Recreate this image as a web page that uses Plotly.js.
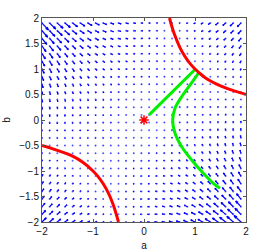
<!DOCTYPE html>
<html>
<head>
<meta charset="utf-8">
<script src="https://cdn.plot.ly/plotly-3.0.1.min.js"></script>
<style>
html,body{margin:0;padding:0;background:#fff;}
#plot{width:277px;height:251px;}
</style>
</head>
<body>
<div id="plot"></div>
<script>
// ---- grid of the vector field (a across, b up) ----
const aGrid = [-2,-1.85,-1.7,-1.55,-1.4,-1.25,-1.1,-0.95,-0.8,-0.65,-0.5,-0.35,-0.2,-0.05,0.1,0.25,0.4,0.55,0.7,0.85,1,1.15,1.3,1.45,1.6,1.75,1.9];
const bGrid = [-2,-1.85,-1.7,-1.55,-1.4,-1.25,-1.1,-0.95,-0.8,-0.65,-0.5,-0.35,-0.2,-0.05,0.1,0.25,0.4,0.55,0.7,0.85,1,1.15,1.3,1.45,1.6,1.75,1.9];

// fieldTable[j][i] : a-component of the arrow at (aGrid[i], bGrid[j]).
// The field is symmetric under swapping a and b, so the b-component at
// (aGrid[i], bGrid[j]) is fieldTable[i][j].
const fieldTable = [
[12,10.8,9.6,8.4,7.2,6,4.8,3.6,2.4,1.2,0,-1.2,-2.4,-3.6,-4.8,-6,-7.2,-8.4,-9.6,-10.8,-12,-13.2,-14.4,-15.6,-16.8,-18,-19.2],
[10,9,7.9,6.9,5.9,4.9,3.8,2.8,1.8,0.7,-0.3,-1.3,-2.3,-3.4,-4.4,-5.4,-6.4,-7.5,-8.5,-9.5,-10.5,-11.6,-12.6,-13.6,-14.7,-15.7,-16.7],
[8.2,7.3,6.4,5.6,4.7,3.8,3,2.1,1.2,0.4,-0.5,-1.4,-2.2,-3.1,-4,-4.8,-5.7,-6.6,-7.4,-8.3,-9.2,-10,-10.9,-11.8,-12.6,-13.5,-14.4],
[6.5,5.8,5.1,4.3,3.6,2.9,2.2,1.5,0.7,0,-0.7,-1.4,-2.1,-2.9,-3.6,-4.3,-5,-5.7,-6.5,-7.2,-7.9,-8.6,-9.3,-10.1,-10.8,-11.5,-12.2],
[5,4.5,3.9,3.3,2.7,2.1,1.5,0.9,0.3,-0.3,-0.8,-1.4,-2,-2.6,-3.2,-3.8,-4.4,-5,-5.5,-6.1,-6.7,-7.3,-7.9,-8.5,-9.1,-9.7,-10.2],
[3.8,3.3,2.8,2.3,1.9,1.4,0.9,0.5,0,-0.5,-0.9,-1.4,-1.9,-2.3,-2.8,-3.3,-3.8,-4.2,-4.7,-5.2,-5.6,-6.1,-6.6,-7,-7.5,-8,-8.4],
[2.6,2.3,1.9,1.6,1.2,0.8,0.5,0.1,-0.3,-0.6,-1,-1.4,-1.7,-2.1,-2.4,-2.8,-3.2,-3.5,-3.9,-4.3,-4.6,-5,-5.3,-5.7,-6.1,-6.4,-6.8],
[1.7,1.4,1.2,0.9,0.6,0.4,0.1,-0.2,-0.5,-0.7,-1,-1.3,-1.5,-1.8,-2.1,-2.4,-2.6,-2.9,-3.2,-3.4,-3.7,-4,-4.2,-4.5,-4.8,-5.1,-5.3],
[1,0.8,0.6,0.4,0.2,0,-0.2,-0.4,-0.6,-0.8,-1,-1.2,-1.3,-1.5,-1.7,-1.9,-2.1,-2.3,-2.5,-2.7,-2.9,-3.1,-3.3,-3.5,-3.6,-3.8,-4],
[0.4,0.3,0.1,0,-0.1,-0.2,-0.4,-0.5,-0.6,-0.8,-0.9,-1,-1.1,-1.3,-1.4,-1.5,-1.6,-1.8,-1.9,-2,-2.1,-2.3,-2.4,-2.5,-2.7,-2.8,-2.9],
[0,-0.1,-0.2,-0.2,-0.3,-0.4,-0.5,-0.5,-0.6,-0.7,-0.8,-0.8,-0.9,-1,-1.1,-1.1,-1.2,-1.3,-1.4,-1.4,-1.5,-1.6,-1.7,-1.7,-1.8,-1.9,-2],
[-0.2,-0.2,-0.3,-0.3,-0.4,-0.4,-0.4,-0.5,-0.5,-0.5,-0.6,-0.6,-0.7,-0.7,-0.7,-0.8,-0.8,-0.8,-0.9,-0.9,-0.9,-1,-1,-1.1,-1.1,-1.1,-1.2],
[-0.2,-0.3,-0.3,-0.3,-0.3,-0.3,-0.3,-0.3,-0.3,-0.3,-0.4,-0.4,-0.4,-0.4,-0.4,-0.4,-0.4,-0.4,-0.5,-0.5,-0.5,-0.5,-0.5,-0.5,-0.5,-0.5,-0.6],
[-0.1,-0.1,-0.1,-0.1,-0.1,-0.1,-0.1,-0.1,-0.1,-0.1,-0.1,-0.1,-0.1,-0.1,-0.1,-0.1,-0.1,-0.1,-0.1,-0.1,-0.1,-0.1,-0.1,-0.1,-0.1,-0.1,-0.1],
[0.2,0.2,0.2,0.2,0.2,0.2,0.2,0.2,0.2,0.2,0.2,0.2,0.2,0.2,0.2,0.2,0.2,0.2,0.2,0.2,0.2,0.2,0.2,0.2,0.2,0.2,0.2],
[0.8,0.7,0.7,0.7,0.7,0.7,0.6,0.6,0.6,0.6,0.6,0.5,0.5,0.5,0.5,0.5,0.5,0.4,0.4,0.4,0.4,0.4,0.3,0.3,0.3,0.3,0.3],
[1.4,1.4,1.3,1.3,1.2,1.2,1.2,1.1,1.1,1,1,0.9,0.9,0.8,0.8,0.7,0.7,0.6,0.6,0.5,0.5,0.4,0.4,0.3,0.3,0.2,0.2],
[2.3,2.2,2.1,2,1.9,1.9,1.8,1.7,1.6,1.5,1.4,1.3,1.2,1.1,1,0.9,0.9,0.8,0.7,0.6,0.5,0.4,0.3,0.2,0.1,0,-0.05],
[3.4,3.2,3.1,2.9,2.8,2.6,2.5,2.3,2.2,2,1.9,1.7,1.6,1.4,1.3,1.2,1,0.9,0.7,0.6,0.4,0.3,0.1,0,-0.2,-0.3,-0.5],
[4.6,4.4,4.2,3.9,3.7,3.5,3.3,3.1,2.9,2.6,2.4,2.2,2,1.8,1.6,1.3,1.1,0.9,0.7,0.5,0.3,0,-0.2,-0.4,-0.6,-0.8,-1],
[6,5.7,5.4,5.1,4.8,4.5,4.2,3.9,3.6,3.3,3,2.7,2.4,2.1,1.8,1.5,1.2,0.9,0.6,0.3,0,-0.3,-0.6,-0.9,-1.2,-1.5,-1.8],
[7.6,7.2,6.8,6.4,6,5.6,5.2,4.8,4.4,4,3.6,3.2,2.8,2.4,2,1.6,1.2,0.8,0.4,0.1,-0.3,-0.7,-1.1,-1.5,-1.9,-2.3,-2.7],
[9.4,8.9,8.3,7.8,7.3,6.8,6.3,5.8,5.3,4.8,4.3,3.8,3.3,2.8,2.3,1.8,1.2,0.7,0.2,-0.3,-0.8,-1.3,-1.8,-2.3,-2.8,-3.3,-3.8],
[11.3,10.7,10,9.4,8.8,8.2,7.5,6.9,6.3,5.6,5,4.4,3.7,3.1,2.5,1.8,1.2,0.6,0,-0.7,-1.3,-1.9,-2.6,-3.2,-3.8,-4.5,-5.1],
[13.4,12.7,11.9,11.1,10.4,9.6,8.8,8.1,7.3,6.5,5.8,5,4.2,3.5,2.7,1.9,1.2,0.4,-0.4,-1.2,-1.9,-2.7,-3.5,-4.2,-5,-5.8,-6.5],
[15.8,14.8,13.9,13,12.1,11.2,10.2,9.3,8.4,7.5,6.6,5.6,4.7,3.8,2.9,2,1.1,0.1,-0.8,-1.7,-2.6,-3.5,-4.5,-5.4,-6.3,-7.2,-8.1],
[18.2,17.2,16.1,15,13.9,12.8,11.7,10.7,9.6,8.5,7.4,6.3,5.2,4.2,3.1,2,0.9,-0.2,-1.3,-2.3,-3.4,-4.5,-5.6,-6.7,-7.8,-8.8,-9.9]
];

// ---- red curves ----
const redTopA = [0.5,0.55,0.6,0.7,0.8,0.9,1,1.1,1.2,1.35,1.5,1.65,1.8,2];
const redTopB = [2,1.82,1.67,1.43,1.25,1.11,1,0.91,0.83,0.74,0.67,0.61,0.56,0.5];
const redBotA = [-2,-1.8,-1.6,-1.4,-1.2,-1.0,-0.9,-0.8,-0.7,-0.6,-0.5];
const redBotB = [-0.5,-0.56,-0.63,-0.71,-0.83,-1,-1.11,-1.25,-1.43,-1.67,-2];

// ---- green paths ----
const green1A = [0.1,1.0];
const green1B = [0.1,0.99];
const green2A = [1.065,0.902,0.739,0.608,0.562,0.608,0.739,0.935,1.163,1.359,1.49];
const green2B = [0.915,0.686,0.457,0.229,0.0,-0.261,-0.523,-0.784,-1.045,-1.242,-1.34];

// ---- starred point ----
const starA = [0];
const starB = [0];

// ---- build quiver (MATLAB-style autoscale and arrow heads) ----
const n = aGrid.length;
const delx = (Math.max(...aGrid)-Math.min(...aGrid))/n;
const dely = (Math.max(...bGrid)-Math.min(...bGrid))/n;
const del = delx*delx + dely*dely;
let maxlen = 0;
for (let j=0;j<n;j++) for (let i=0;i<n;i++){
  const u = fieldTable[j][i], v = fieldTable[i][j];
  maxlen = Math.max(maxlen, Math.sqrt((u*u+v*v)/del));
}
const sc = 0.9/maxlen;
const alpha = 0.33, beta = 0.33;
const qx = [], qy = [], dx = [], dy = [];
for (let j=0;j<n;j++) for (let i=0;i<n;i++){
  const x = aGrid[i], y = bGrid[j];
  const u = fieldTable[j][i]*sc, v = fieldTable[i][j]*sc;
  qx.push(x, x+u, null);
  qy.push(y, y+v, null);
  qx.push(x+u-alpha*(u+beta*v), x+u, x+u-alpha*(u-beta*v), null);
  qy.push(y+v-alpha*(v-beta*u), y+v, y+v-alpha*(v+beta*u), null);
  dx.push(x); dy.push(y);
}

const traces = [
  {x: dx, y: dy, mode:'markers', type:'scatter', hoverinfo:'skip',
   marker:{size:2, color:'rgba(40,40,255,0.7)', line:{width:0}}},
  {x: qx, y: qy, mode:'lines', type:'scatter', hoverinfo:'skip',
   line:{color:'#0000ff', width:1.25}},
  {x: green1A, y: green1B, mode:'lines', type:'scatter', line:{color:'#00f000', width:3}},
  {x: green2A, y: green2B, mode:'lines', type:'scatter', line:{color:'#00f000', width:3, shape:'spline'}},
  {x: redTopA, y: redTopB, mode:'lines', type:'scatter', line:{color:'#ff0000', width:3, shape:'spline'}},
  {x: redBotA, y: redBotB, mode:'lines', type:'scatter', line:{color:'#ff0000', width:3, shape:'spline'}},
  {x: starA, y: starB, mode:'markers', type:'scatter',
   marker:{symbol:'asterisk-open', size:8, color:'#ff0000', line:{color:'#ff0000', width:1.5}}}
];

const axisCommon = {
  range:[-2,2], showgrid:false, zeroline:false,
  showline:true, linecolor:'#555555', linewidth:1, mirror:'ticks',
  ticks:'inside', ticklen:3, tickcolor:'#555555',
  tickfont:{family:'Liberation Sans, Arial, sans-serif', size:10, color:'#111111'},
  fixedrange:true
};

const layout = {
  width:277, height:251,
  margin:{l:42, r:31, t:18, b:29},
  paper_bgcolor:'#ffffff', plot_bgcolor:'#ffffff',
  showlegend:false,
  font:{family:'Liberation Sans, Arial, sans-serif', size:10, color:'#111111'},
  xaxis: Object.assign({}, axisCommon, {
    tickvals:[-2,-1,0,1,2],
    title:{text:'a', font:{size:10}, standoff:5}
  }),
  yaxis: Object.assign({}, axisCommon, {
    tickvals:[-2,-1.5,-1,-0.5,0,0.5,1,1.5,2],
    title:{text:'b', font:{size:10}, standoff:6}
  })
};

Plotly.newPlot('plot', traces, layout, {staticPlot:true, displayModeBar:false});
</script>
</body>
</html>
